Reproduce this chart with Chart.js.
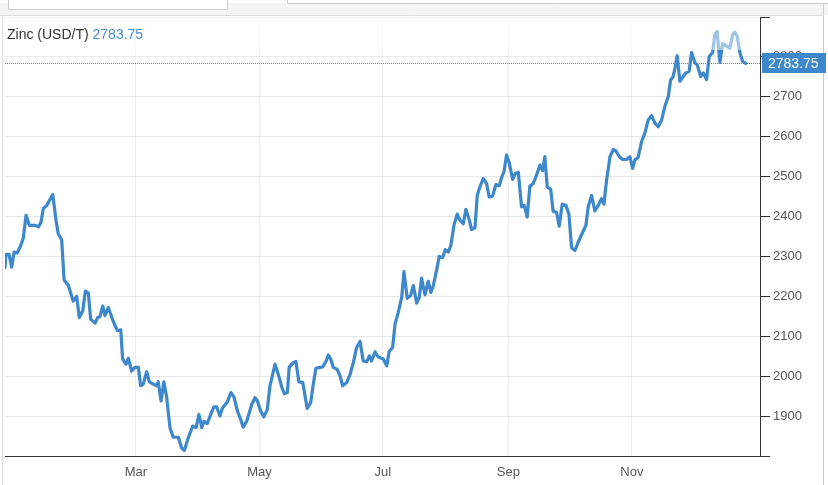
<!DOCTYPE html>
<html>
<head>
<meta charset="utf-8">
<title>Zinc (USD/T)</title>
<script src="https://cdn.jsdelivr.net/npm/chart.js@4.4.0/dist/chart.umd.min.js"></script>
<style>
    html, body { margin: 0; padding: 0; background: #fff; }
    #wrap { position: relative; width: 828px; height: 485px; }
</style>
</head>
<body>
<div id="wrap"><canvas id="zincChart"></canvas></div>
<script>
// Días desde el 1 de enero de 2020 (negativos = diciembre 2019)
const days = [
    -4.7, -4.2, -2.7, -1.4, -0.2, 1.4, 3.1, 4.3, 5.7, 7.3, 10.1, 11.8, 13.1, 14.2, 15.9, 18.9,
    20.5, 21.6, 23.3, 24.5, 26.6, 29.0, 30.7, 32.0, 33.7, 35.0, 36.5, 37.6, 39.8, 41.1, 42.2, 43.6,
    44.7, 46.3, 48.8, 50.8, 52.5, 53.4, 55.1, 56.2, 57.9, 59.5, 61.2, 62.3, 63.6, 65.3, 66.6, 68.6,
    70.2, 71.0, 72.4, 73.8, 75.2, 76.8, 78.4, 80.9, 82.6, 83.9, 85.8, 88.0, 89.7, 91.1, 92.5, 93.6,
    95.2, 96.6, 98.5, 99.9, 101.5, 102.8, 105.1, 106.9, 108.4, 110.1, 111.7, 113.0, 114.7, 117.2, 118.8, 119.9,
    121.6, 123.2, 124.9, 126.2, 128.7, 130.3, 132.0, 133.3, 134.8, 135.7, 137.7, 139.0, 140.5, 142.4, 144.6, 146.3,
    147.6, 148.9, 150.9, 152.2, 153.9, 155.0, 156.2, 157.5, 159.4, 160.8, 162.1, 164.1, 165.7, 167.4, 169.0, 170.7,
    172.3, 174.0, 175.3, 176.4, 178.1, 179.7, 182.2, 183.9, 185.1, 186.8, 188.0, 189.6, 191.3, 192.4, 194.0, 195.7,
    197.0, 198.7, 200.0, 201.1, 202.8, 204.4, 205.7, 206.9, 208.5, 209.8, 211.5, 212.8, 214.3, 215.6, 217.1, 218.7,
    220.1, 221.7, 223.0, 224.7, 225.8, 227.5, 228.6, 229.9, 231.6, 233.2, 234.5, 236.2, 237.8, 239.5, 240.7, 241.8,
    243.1, 244.4, 246.1, 247.4, 248.9, 250.5, 251.8, 253.3, 254.6, 256.3, 258.2, 259.6, 260.9, 262.0, 263.2, 264.9,
    266.1, 267.8, 269.1, 270.6, 272.4, 273.9, 275.2, 276.9, 278.5, 280.2, 282.3, 283.4, 285.1, 286.7, 288.4, 290.0,
    291.2, 292.5, 294.2, 295.8, 297.1, 298.8, 300.4, 302.4, 304.0, 305.4, 306.5, 308.1, 309.8, 311.4, 313.1, 314.7,
    316.4, 318.0, 319.7, 321.3, 323.0, 324.1, 325.4, 326.3, 327.4, 328.7, 330.4, 331.7, 333.3, 334.5, 336.2, 337.3,
    339.0, 340.3, 341.9, 343.2, 344.9, 346.0, 347.1, 348.5, 349.8, 351.8, 353.4, 354.8, 355.9, 357.0, 358.4, 359.7,
    361.2
];

// Precio del zinc (USD/T)
const prices = [
    2272, 2305, 2305, 2273, 2311, 2309, 2328, 2345, 2403, 2378, 2378, 2374, 2386, 2420, 2428, 2455,
    2391, 2357, 2342, 2241, 2227, 2188, 2200, 2147, 2164, 2213, 2208, 2143, 2133, 2147, 2149, 2176,
    2152, 2172, 2137, 2114, 2116, 2043, 2030, 2045, 2013, 2022, 2022, 1976, 1980, 2011, 1986, 1980,
    1976, 1986, 1938, 1986, 1946, 1871, 1847, 1847, 1820, 1814, 1845, 1875, 1871, 1904, 1871, 1887,
    1881, 1900, 1923, 1923, 1900, 1921, 1935, 1959, 1948, 1913, 1892, 1872, 1887, 1929, 1946, 1939,
    1913, 1898, 1917, 1976, 2030, 2005, 1973, 1956, 1959, 2022, 2034, 2037, 1986, 1984, 1919, 1933,
    1980, 2020, 2022, 2023, 2037, 2053, 2043, 2022, 2017, 2001, 1976, 1984, 2003, 2034, 2072, 2087,
    2038, 2036, 2051, 2038, 2061, 2048, 2043, 2026, 2062, 2072, 2131, 2160, 2198, 2262, 2195, 2202,
    2227, 2183, 2198, 2246, 2204, 2238, 2210, 2227, 2265, 2300, 2297, 2317, 2311, 2328, 2378, 2406,
    2391, 2382, 2418, 2391, 2367, 2372, 2453, 2474, 2495, 2483, 2449, 2451, 2480, 2477, 2499, 2512,
    2554, 2535, 2493, 2508, 2511, 2424, 2428, 2399, 2476, 2483, 2508, 2529, 2515, 2550, 2474, 2468,
    2413, 2410, 2376, 2431, 2428, 2406, 2322, 2315, 2336, 2355, 2378, 2424, 2453, 2414, 2428, 2445,
    2431, 2491, 2550, 2568, 2565, 2550, 2543, 2543, 2550, 2521, 2542, 2548, 2588, 2609, 2642, 2653,
    2634, 2625, 2642, 2676, 2701, 2741, 2751, 2772, 2803, 2739, 2751, 2760, 2764, 2811, 2785, 2780,
    2751, 2760, 2743, 2801, 2811, 2856, 2864, 2786, 2833, 2827, 2822, 2856, 2862, 2852, 2810, 2789,
    2783.75
];

const monthDays = [60, 121, 182, 244, 305];
const monthLabels = ['Mar', 'May', 'Jul', 'Sep', 'Nov'];
const yTicks = [1800, 1900, 2000, 2100, 2200, 2300, 2400, 2500, 2600, 2700, 2800, 2900];
const lastPrice = 2783.75;
const seriesName = 'Zinc (USD/T)';

const lineColor = '#3d87cc';
const fontFamily = '"Liberation Sans", Arial, sans-serif';

// Marco de la página (pestañas y bordes)
const framePlugin = {
    id: 'frame',
    beforeDraw(chart) {
        const c = chart.ctx;
        c.save();
        c.fillStyle = '#f4f4f4';
        c.fillRect(0, 3, 828, 12);
        c.fillStyle = '#fff';
        c.fillRect(8, 0, 219, 9);
        c.strokeStyle = '#cccccc';
        c.lineWidth = 1;
        c.beginPath();
        c.moveTo(8.5, 0); c.lineTo(8.5, 9.5); c.lineTo(227.5, 9.5); c.lineTo(227.5, 0);
        c.moveTo(287.5, 0); c.lineTo(287.5, 3.5); c.lineTo(828, 3.5);
        c.moveTo(823.5, 3.5); c.lineTo(823.5, 485);
        c.stroke();
        c.strokeStyle = '#dddddd';
        c.beginPath();
        c.moveTo(0, 15.5); c.lineTo(823, 15.5);
        c.moveTo(2.5, 15.5); c.lineTo(2.5, 485);
        c.stroke();
        c.restore();
    },
    beforeDatasetsDraw(chart) {
        // línea punteada del último precio
        const c = chart.ctx;
        const area = chart.chartArea;
        const y = chart.scales.y.getPixelForValue(lastPrice);
        c.save();
        c.strokeStyle = lineColor;
        c.lineWidth = 1;
        c.setLineDash([1, 1]);
        c.beginPath();
        c.moveTo(area.left, Math.round(y) + 0.5);
        c.lineTo(area.right, Math.round(y) + 0.5);
        c.stroke();
        c.restore();
    },
    afterDatasetsDraw(chart) {
        const c = chart.ctx;
        const area = chart.chartArea;
        c.save();
        // fondo semitransparente de la leyenda
        c.fillStyle = 'rgba(255,255,255,0.5)';
        c.fillRect(area.left, area.top, area.right - area.left, 33);
        c.font = '14px ' + fontFamily;
        c.textBaseline = 'middle';
        c.fillStyle = '#333333';
        c.fillText(seriesName, 7, 35);
        const w = c.measureText(seriesName + ' ').width;
        c.fillStyle = '#4a8fd6';
        c.fillText(lastPrice.toFixed(2), 7 + w, 35);
        c.restore();
    },
    afterDraw(chart) {
        // etiqueta del precio en el eje
        const c = chart.ctx;
        const y = chart.scales.y.getPixelForValue(lastPrice);
        c.save();
        c.fillStyle = '#3d87cc';
        c.fillRect(762, Math.round(y) - 10, 64, 20);
        c.fillStyle = '#ffffff';
        c.font = '14px ' + fontFamily;
        c.textBaseline = 'middle';
        c.fillText(lastPrice.toFixed(2), 768, Math.round(y) + 1);
        c.restore();
    }
};

const ctx = document.getElementById('zincChart');
new Chart(ctx, {
    type: 'line',
    data: {
        datasets: [{
            label: seriesName,
            data: days.map((d, i) => ({ x: d, y: prices[i] })),
            borderColor: lineColor,
            borderWidth: 3.2,
            borderJoinStyle: 'round',
            borderCapStyle: 'round',
            pointRadius: 0,
            tension: 0,
            fill: false
        }]
    },
    options: {
        responsive: true,
        maintainAspectRatio: false,
        animation: false,
        layout: { padding: { left: 5, top: 17, right: 0, bottom: 0 } },
        plugins: {
            legend: { display: false },
            tooltip: { enabled: false }
        },
        scales: {
            x: {
                type: 'linear',
                min: -4.7,
                max: 368.3,
                afterBuildTicks: function(scale) {
                    scale.ticks = monthDays.map(v => ({ value: v }));
                },
                afterFit: function(scale) { scale.height = 29; },
                grid: { color: '#edf1f4', drawTicks: false },
                border: { display: true, color: '#333333', width: 1 },
                ticks: {
                    autoSkip: false,
                    maxRotation: 0,
                    padding: 9,
                    color: '#555555',
                    font: { size: 13, family: fontFamily },
                    callback: function(value) {
                        const i = monthDays.indexOf(value);
                        return i >= 0 ? monthLabels[i] : '';
                    }
                }
            },
            y: {
                position: 'right',
                min: 1800,
                max: 2900,
                afterBuildTicks: function(scale) {
                    scale.ticks = yTicks.map(v => ({ value: v }));
                },
                afterFit: function(scale) { scale.width = 68; },
                grid: { color: '#e6e6e6', tickColor: '#333333', tickLength: 10 },
                border: { display: true, color: '#333333', width: 1 },
                ticks: {
                    padding: 3,
                    color: '#555555',
                    font: { size: 13, family: fontFamily },
                    callback: function(value) {
                        return (value === 1800 || value === 2900) ? '' : value;
                    }
                }
            }
        }
    },
    plugins: [framePlugin]
});
</script>
</body>
</html>
